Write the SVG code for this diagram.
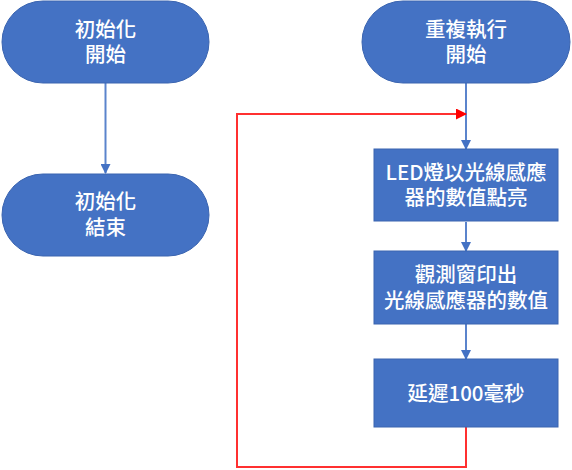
<svg xmlns="http://www.w3.org/2000/svg" width="572" height="470" viewBox="0 0 572 470">
<defs>
<style>
.n{fill:#4472C4;stroke:#3A64B0;stroke-width:1}
.t{fill:#FFFFFF;font-family:"Noto Sans CJK TC","Noto Sans CJK SC",sans-serif;font-size:20.5px;font-weight:500;text-anchor:middle}
.c{fill:none;stroke:#5B84CC;stroke-width:2}
.r{fill:none;stroke:#FF3030;stroke-width:2}
</style>
<marker id="ab" markerWidth="10" markerHeight="10" refX="9" refY="5" orient="auto" markerUnits="userSpaceOnUse"><path d="M0,0 L10,5 L0,10 Z" fill="#4472C4"/></marker>
<marker id="ar" markerWidth="11" markerHeight="11" refX="10" refY="5.5" orient="auto" markerUnits="userSpaceOnUse"><path d="M0,0 L11,5.5 L0,11 Z" fill="#FF0000"/></marker>
</defs>
<g id="connectors">
<line class="c" x1="105.5" y1="83" x2="105.5" y2="173" marker-end="url(#ab)"/>
<line class="c" x1="466" y1="83" x2="466" y2="149" marker-end="url(#ab)"/>
<line class="c" x1="466" y1="222" x2="466" y2="251" marker-end="url(#ab)"/>
<line class="c" x1="466" y1="324" x2="466" y2="359" marker-end="url(#ab)"/>
<polyline class="r" points="466,427 466,467 237,467 237,114 466,114" marker-end="url(#ar)"/>
</g>
<g id="init-start">
<rect class="n" x="2" y="1" width="207" height="82" rx="41"/>
<text class="t"><tspan x="105.5" y="37">初始化</tspan><tspan x="105.5" y="62">開始</tspan></text>
</g>
<g id="init-end">
<rect class="n" x="2" y="174" width="207" height="82" rx="41"/>
<text class="t"><tspan x="105.5" y="209">初始化</tspan><tspan x="105.5" y="235">結束</tspan></text>
</g>
<g id="loop-start">
<rect class="n" x="362" y="1" width="208" height="82" rx="41"/>
<text class="t"><tspan x="466" y="37">重複執行</tspan><tspan x="466" y="62">開始</tspan></text>
</g>
<g id="led">
<rect class="n" x="374" y="149" width="184" height="72"/>
<text class="t"><tspan x="466" y="180">LED燈以光線感應</tspan><tspan x="466" y="205">器的數值點亮</tspan></text>
</g>
<g id="print">
<rect class="n" x="374" y="251" width="184" height="73"/>
<text class="t"><tspan x="466" y="282">觀測窗印出</tspan><tspan x="466" y="308">光線感應器的數值</tspan></text>
</g>
<g id="delay">
<rect class="n" x="374" y="359" width="184" height="68"/>
<text class="t" x="466" y="401">延遲100毫秒</text>
</g>
</svg>
